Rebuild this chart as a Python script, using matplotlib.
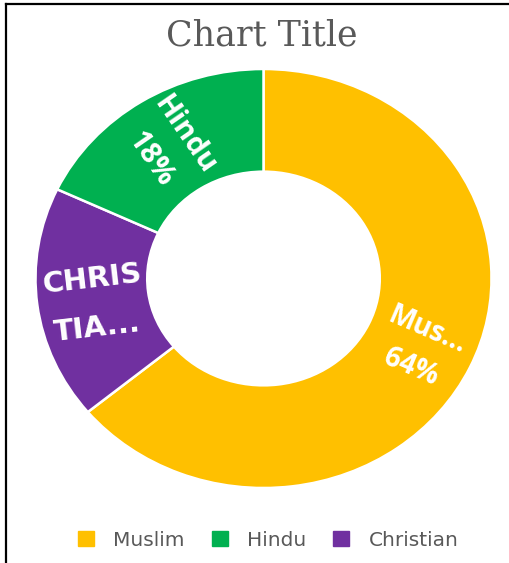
import numpy as np
import matplotlib
matplotlib.use("Agg")
import matplotlib.pyplot as plt
from matplotlib.patches import Patch
from matplotlib.lines import Line2D

# ---- data ----
categories = ["Muslim", "Hindu", "Christian"]
values = [64, 18, 18]
colors = ["#FFC000", "#00B050", "#7030A0"]
slice_labels = {"Muslim": "Mus...\n64%", "Hindu": "Hindu\n18%", "Christian": "CHRIS\nTIA..."}
draw_order = ["Muslim", "Christian", "Hindu"]  # clockwise from top as drawn
title = "Chart Title"

W, H = 509, 563
fig = plt.figure(figsize=(W / 100, H / 100), dpi=100)
fig.patch.set_facecolor("white")

# axes placed so ring spans x 35.5..491.5, y 69..488 (pixels)
ax_left, ax_right, ax_top, ax_bot = 35.5, 491.5, 69, 488
ax = fig.add_axes([ax_left / W, (H - ax_bot) / H, (ax_right - ax_left) / W, (ax_bot - ax_top) / H])

idx = [categories.index(c) for c in draw_order]
wedges, _ = ax.pie([values[i] for i in idx], colors=[colors[i] for i in idx],
                   startangle=90, counterclock=False, radius=1.0,
                   wedgeprops=dict(width=0.49, edgecolor="white", linewidth=1.8))
ax.set_aspect("auto")
ax.set_xlim(-1, 1)
ax.set_ylim(-1, 1)
ax.axis("off")

rx = (ax_right - ax_left) / 2
ry = (ax_bot - ax_top) / 2
label_style = {
    "Muslim": dict(family=["Open Sans", "DejaVu Sans"], weight="bold", size=20, linespacing=1.55),
    "Hindu": dict(family=["Open Sans", "DejaVu Sans"], weight="bold", size=21, linespacing=1.6),
    "Christian": dict(family=["DejaVu Sans"], weight="bold", size=21, linespacing=1.95),
}
# small label nudges in pixels (dx, dy with y down)
label_nudge = {"Muslim": (0, 3), "Hindu": (-4, 2), "Christian": (2, 5)}
r_mid = 1 - 0.49 / 2
for w, ci in zip(wedges, idx):
    cat = categories[ci]
    mid = np.deg2rad((w.theta1 + w.theta2) / 2)
    x, y = r_mid * np.cos(mid), r_mid * np.sin(mid)
    nx, ny = label_nudge[cat]
    x += nx / rx
    y -= ny / ry
    ang = np.degrees(np.arctan2(np.sin(mid) * ry, np.cos(mid) * rx))
    if ang > 90:
        ang -= 180
    elif ang < -90:
        ang += 180
    ax.text(x, y, slice_labels[cat], color="white", ha="center", va="center",
            rotation=ang, rotation_mode="anchor", multialignment="center",
            **label_style[cat])

fig.text(262 / W, 1 - 35 / H, title, ha="center", va="center",
         family=["DejaVu Serif"], size=25, color="#595959")

handles = [Patch(facecolor=c, edgecolor=c) for c in colors]
fig.legend(handles, categories, loc="center", bbox_to_anchor=(268 / W, 1 - 540 / H),
           ncol=3, frameon=False, handlelength=0.8, handleheight=0.75,
           handletextpad=0.95, columnspacing=1.35,
           prop=dict(family="DejaVu Sans", size=14.5), labelcolor="#595959")

# frame lines (top and left)
fig.add_artist(Line2D([6 / W, 1], [1 - 4 / H, 1 - 4 / H], color="black", lw=1.6, transform=fig.transFigure))
fig.add_artist(Line2D([6 / W, 6 / W], [0, 1 - 4 / H], color="black", lw=1.6, transform=fig.transFigure))

fig.savefig("out.png", dpi=100, facecolor="white")
